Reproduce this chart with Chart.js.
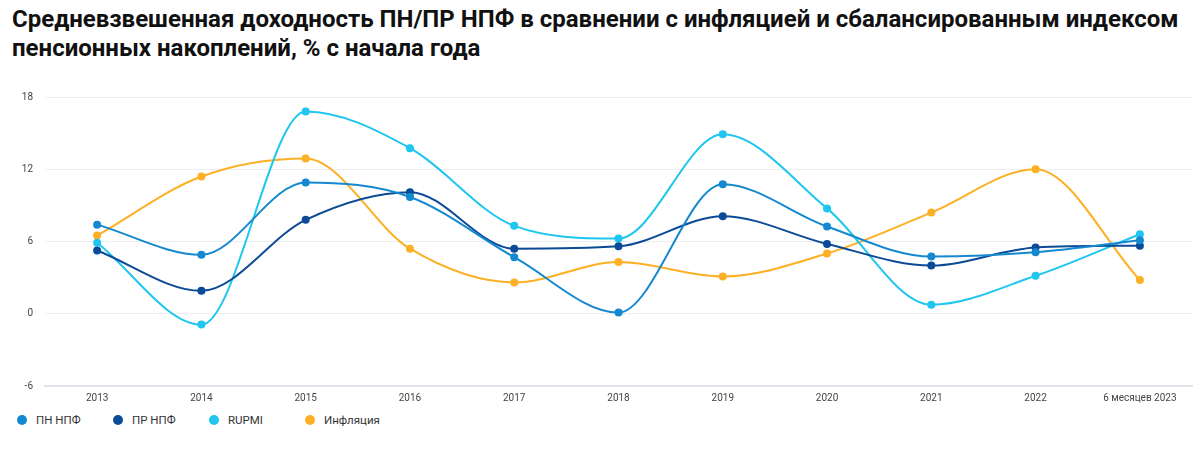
<!DOCTYPE html>
<html>
<head>
<meta charset="utf-8">
<script src="https://cdn.jsdelivr.net/npm/chart.js@4"></script>
<style>
  body { margin: 0; background: #fff; font-family: Roboto, "Noto Sans", sans-serif; }
  #title { position: absolute; left: 12px; top: 5px; width: 1185px; font-size: 24px; font-weight: bold; line-height: 29px; color: #111; margin: 0; }
  #wrap { position: absolute; left: 0; top: 79px; width: 1200px; height: 331px; }
  #legend { position: absolute; left: 17px; top: 412px; display: flex; font-size: 11.5px; color: #333; }
  #legend .item { width: 96px; height: 16px; display: flex; align-items: center; }
  #legend .dot { width: 10px; height: 10px; border-radius: 50%; margin-right: 9px; }
</style>
</head>
<body>
<h1 id="title">Средневзвешенная доходность ПН/ПР НПФ в сравнении с инфляцией и сбалансированным индексом пенсионных накоплений, % с начала года</h1>
<div id="wrap"><canvas id="chart"></canvas></div>
<div id="legend"></div>
<script>
const years = ['2013', '2014', '2015', '2016', '2017', '2018', '2019', '2020', '2021', '2022', '6 месяцев 2023'];
const pnNpf = [7.4, 4.9, 10.9, 9.7, 4.7, 0.1, 10.75, 7.25, 4.75, 5.1, 6.1];
const prNpf = [5.25, 1.9, 7.8, 10.1, 5.4, 5.6, 8.1, 5.8, 4.0, 5.5, 5.65];
const rupmi = [5.9, -0.9, 16.8, 13.75, 7.3, 6.25, 14.9, 8.75, 0.75, 3.15, 6.6];
const inflation = [6.5, 11.4, 12.9, 5.4, 2.6, 4.3, 3.1, 5.0, 8.4, 12.0, 2.8];
const yTicks = [-6, 0, 6, 12, 18];

const series = [
  { label: 'ПН НПФ', data: pnNpf, color: '#1589cf' },
  { label: 'ПР НПФ', data: prNpf, color: '#0b4a96' },
  { label: 'RUPMI', data: rupmi, color: '#1fc6ef' },
  { label: 'Инфляция', data: inflation, color: '#fdb023' }
];

// legend in html, fixed width items
const legend = document.getElementById('legend');
series.forEach(s => {
  const item = document.createElement('div');
  item.className = 'item';
  item.innerHTML = `<span class="dot" style="background:${s.color}"></span><span>${s.label}</span>`;
  legend.appendChild(item);
});

const ctx = document.getElementById('chart').getContext('2d');
const chart = new Chart(ctx, {
  type: 'line',
  data: {
    labels: years,
    datasets: series.map(s => ({
      label: s.label,
      data: s.data,
      borderColor: s.color,
      backgroundColor: s.color,
      borderWidth: 2,
      pointRadius: 4,
      pointBorderWidth: 0,
      cubicInterpolationMode: 'monotone',
      fill: false
    }))
  },
  options: {
    responsive: true,
    maintainAspectRatio: false,
    animation: false,
    layout: { padding: { top: 6, right: 8, left: 0, bottom: 0 } },
    plugins: {
      legend: { display: false },
      tooltip: { enabled: false }
    },
    scales: {
      x: {
        offset: true,
        grid: { display: false, drawTicks: false },
        border: { color: '#dfe4ec', width: 2 },
        ticks: { color: '#444', font: { size: 10, family: 'Roboto' }, padding: 6, maxRotation: 0 }
      },
      y: {
        min: -6,
        max: 18,
        afterBuildTicks: axis => { axis.ticks = yTicks.map(v => ({ value: v })); },
        afterFit: axis => { axis.width = 45; },
        grid: { color: '#eceef2', drawTicks: false },
        border: { display: false },
        ticks: { color: '#444', font: { size: 10, family: 'Roboto' }, padding: 12 }
      }
    }
  }
});
</script>
</body>
</html>
